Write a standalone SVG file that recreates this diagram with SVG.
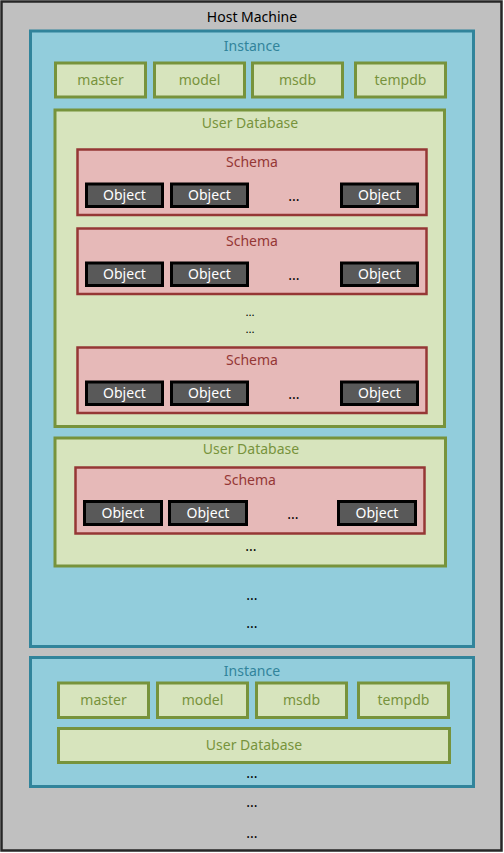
<svg xmlns="http://www.w3.org/2000/svg" width="504" height="853" viewBox="0 0 504 853">
<style>
text{font-family:"Noto Sans","Open Sans","Liberation Sans",sans-serif;font-size:14px;text-anchor:middle}
.host{fill:#c0c0c0;stroke:#262626;stroke-width:2.5}
.inst{fill:#92cddc;stroke:#31849b;stroke-width:3}
.db{fill:#d7e4bd;stroke:#77933c;stroke-width:3}
.sch{fill:#e6b9b8;stroke:#953735;stroke-width:2.5}
.obj{fill:#595959;stroke:#000;stroke-width:3}
.tHost{fill:#000}
.tInst{fill:#31849b}
.tDb{fill:#77933c}
.tSch{fill:#953735}
.tObj{fill:#fff}
.tDot{fill:#000}
.sm{font-size:11.5px}
</style>
<g id="host">
<rect class="host" x="1.5" y="1.5" width="500" height="849"/>
<text class="tHost" x="252" y="22">Host Machine</text>
<text class="tDot" x="252" y="807">...</text>
<text class="tDot" x="252" y="838">...</text>
</g>
<g id="instance1">
<rect class="inst" x="30.5" y="31" width="443" height="615.5"/>
<text class="tInst" x="252" y="51">Instance</text>
<text class="tDot" x="252" y="600">...</text>
<text class="tDot" x="252" y="628">...</text>
</g>
<g id="i1-master"><rect class="db" x="55.5" y="63" width="90" height="34"/><text class="tDb" x="100.5" y="85">master</text></g>
<g id="i1-model"><rect class="db" x="154.5" y="63" width="90" height="34"/><text class="tDb" x="199.5" y="85">model</text></g>
<g id="i1-msdb"><rect class="db" x="252.5" y="63" width="90" height="34"/><text class="tDb" x="297.5" y="85">msdb</text></g>
<g id="i1-tempdb"><rect class="db" x="355.5" y="63" width="90" height="34"/><text class="tDb" x="400.5" y="85">tempdb</text></g>
<g id="udb1">
<rect class="db" x="55" y="110" width="389.5" height="316.5"/>
<text class="tDb" x="250" y="128">User Database</text>
<text class="tDot sm" x="250" y="316">...</text>
<text class="tDot sm" x="250" y="333">...</text>
</g>
<g id="schema1">
<rect class="sch" x="77.5" y="149.5" width="349" height="65.5"/>
<text class="tSch" x="252" y="167">Schema</text>
<text class="tDot" x="294" y="201">...</text>
</g>
<g id="s1-o1"><rect class="obj" x="86.5" y="184" width="76" height="22.5"/><text class="tObj" x="124.5" y="200">Object</text></g>
<g id="s1-o2"><rect class="obj" x="171.5" y="184" width="76" height="22.5"/><text class="tObj" x="209.5" y="200">Object</text></g>
<g id="s1-o3"><rect class="obj" x="341.5" y="184" width="76" height="22.5"/><text class="tObj" x="379.5" y="200">Object</text></g>
<g id="schema2">
<rect class="sch" x="77.5" y="228.5" width="349" height="65.5"/>
<text class="tSch" x="252" y="246">Schema</text>
<text class="tDot" x="294" y="280">...</text>
</g>
<g id="s2-o1"><rect class="obj" x="86.5" y="263" width="76" height="22.5"/><text class="tObj" x="124.5" y="279">Object</text></g>
<g id="s2-o2"><rect class="obj" x="171.5" y="263" width="76" height="22.5"/><text class="tObj" x="209.5" y="279">Object</text></g>
<g id="s2-o3"><rect class="obj" x="341.5" y="263" width="76" height="22.5"/><text class="tObj" x="379.5" y="279">Object</text></g>
<g id="schema3">
<rect class="sch" x="77.5" y="347.5" width="349" height="65.5"/>
<text class="tSch" x="252" y="365">Schema</text>
<text class="tDot" x="294" y="399">...</text>
</g>
<g id="s3-o1"><rect class="obj" x="86.5" y="382" width="76" height="22.5"/><text class="tObj" x="124.5" y="398">Object</text></g>
<g id="s3-o2"><rect class="obj" x="171.5" y="382" width="76" height="22.5"/><text class="tObj" x="209.5" y="398">Object</text></g>
<g id="s3-o3"><rect class="obj" x="341.5" y="382" width="76" height="22.5"/><text class="tObj" x="379.5" y="398">Object</text></g>
<g id="udb2">
<rect class="db" x="55" y="438" width="390.5" height="128"/>
<text class="tDb" x="251" y="454">User Database</text>
<text class="tDot" x="251" y="551">...</text>
</g>
<g id="schema4">
<rect class="sch" x="75.5" y="467.5" width="349" height="66"/>
<text class="tSch" x="250" y="485">Schema</text>
<text class="tDot" x="293" y="519">...</text>
</g>
<g id="s4-o1"><rect class="obj" x="84.5" y="501.5" width="77" height="23"/><text class="tObj" x="123" y="517.5">Object</text></g>
<g id="s4-o2"><rect class="obj" x="169.5" y="501.5" width="77" height="23"/><text class="tObj" x="208" y="517.5">Object</text></g>
<g id="s4-o3"><rect class="obj" x="338.5" y="501.5" width="77" height="23"/><text class="tObj" x="377" y="517.5">Object</text></g>
<g id="instance2">
<rect class="inst" x="30.5" y="657.5" width="443" height="129"/>
<text class="tInst" x="252" y="676">Instance</text>
<text class="tDot" x="252" y="778">...</text>
</g>
<g id="i2-master"><rect class="db" x="58.5" y="683" width="90" height="34.5"/><text class="tDb" x="103.5" y="705">master</text></g>
<g id="i2-model"><rect class="db" x="157.5" y="683" width="90" height="34.5"/><text class="tDb" x="202.5" y="705">model</text></g>
<g id="i2-msdb"><rect class="db" x="256.5" y="683" width="90" height="34.5"/><text class="tDb" x="301.5" y="705">msdb</text></g>
<g id="i2-tempdb"><rect class="db" x="358.5" y="683" width="90" height="34.5"/><text class="tDb" x="403.5" y="705">tempdb</text></g>
<g id="i2-udb"><rect class="db" x="58.5" y="728.5" width="391" height="34"/><text class="tDb" x="254" y="750">User Database</text></g>
<g id="connectors"/>
</svg>
